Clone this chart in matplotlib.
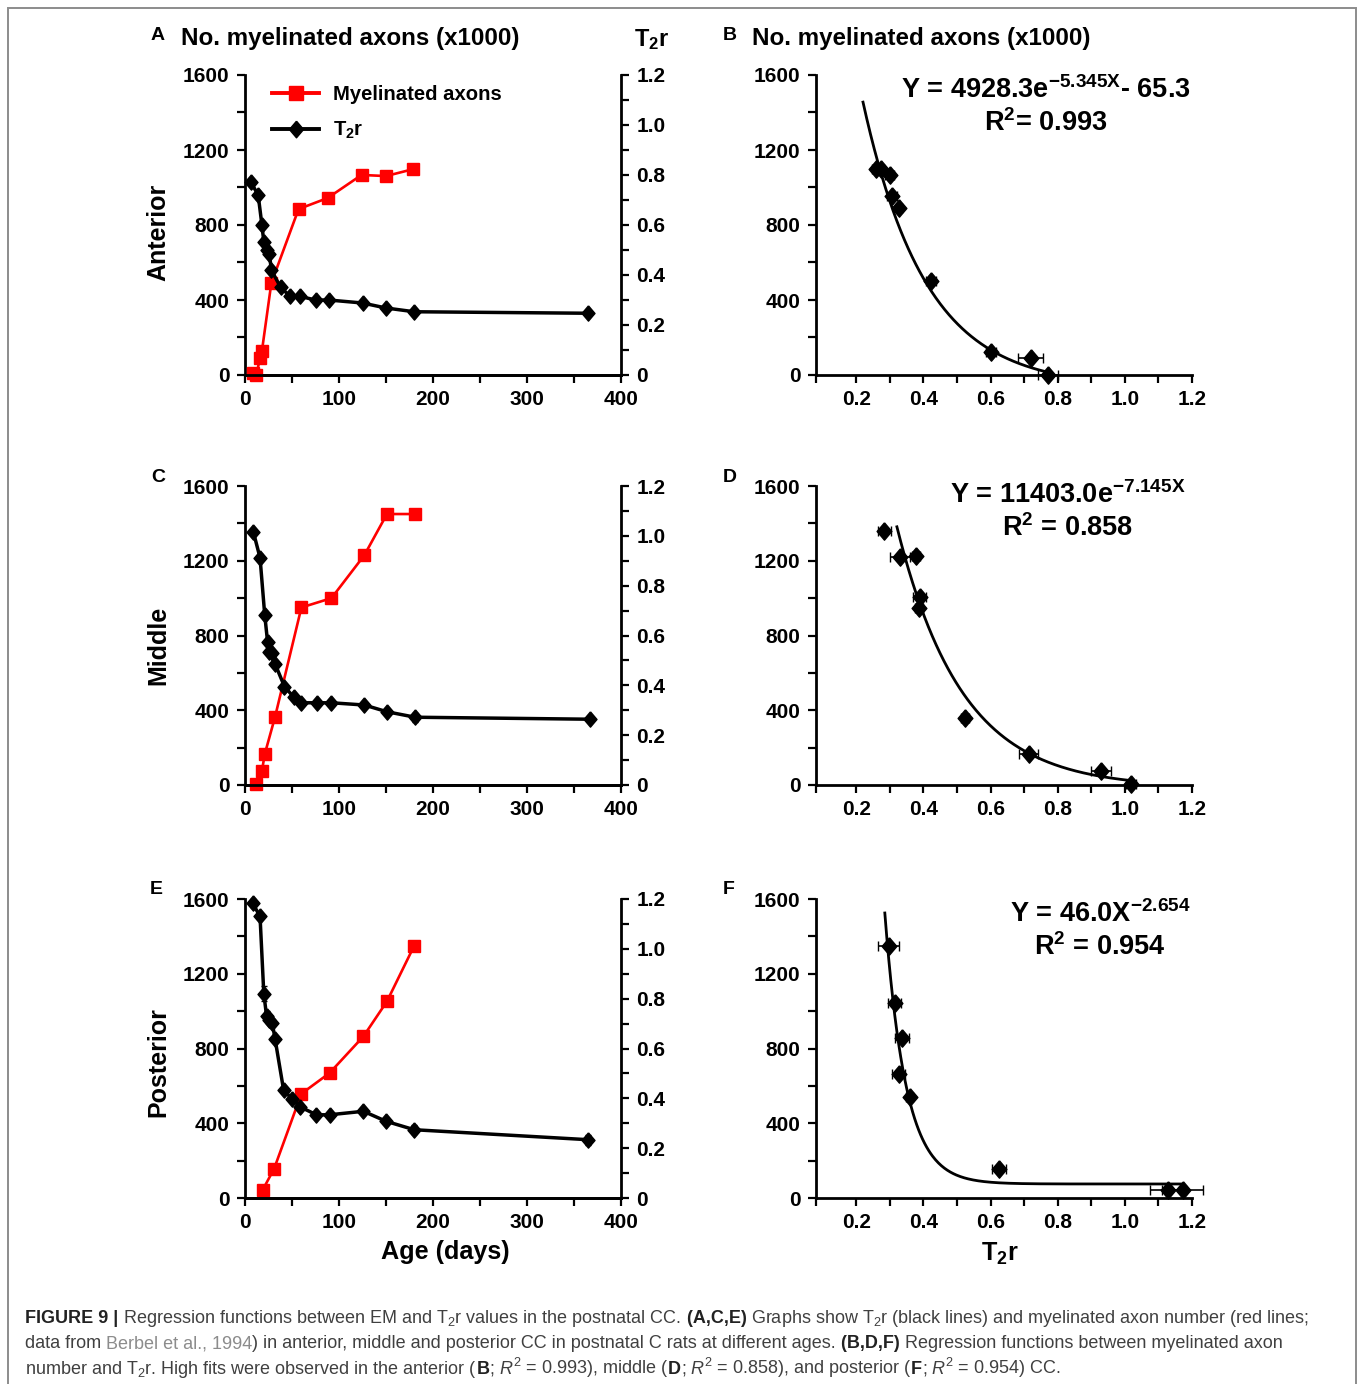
import numpy as np
import matplotlib
matplotlib.use("Agg")
import matplotlib.pyplot as plt
from matplotlib.ticker import MultipleLocator, FixedLocator, FuncFormatter
from matplotlib.lines import Line2D
from matplotlib.patches import Rectangle

plt.rcParams['font.family'] = ['Liberation Sans', 'DejaVu Sans']
plt.rcParams['font.weight'] = 'bold'
plt.rcParams['mathtext.default'] = 'regular'

# ---------------- data ----------------
# A - anterior
a_days_ax = [8, 12, 16, 18, 28, 57, 88, 124, 150, 179]
a_axons = [10, 0, 90, 128, 490, 885, 944, 1067, 1061, 1098]
a_days_t2 = [6, 14, 18, 20, 23, 26, 28, 38, 48, 58, 75, 89, 125, 150, 180, 365]
a_t2r = [0.773, 0.72, 0.60, 0.533, 0.50, 0.483, 0.42, 0.35, 0.315, 0.315,
         0.30, 0.30, 0.288, 0.268, 0.253, 0.247]
a_t2r_err = [0.01, 0.015, 0.01, 0.01, 0.01, 0.01, 0.01, 0.01, 0.01, 0.01,
             0.01, 0.01, 0.01, 0.01, 0.01, 0.012]

# C - middle
c_days_ax = [12, 18, 21, 32, 60, 92, 127, 151, 181]
c_axons = [5, 75, 165, 365, 950, 1000, 1230, 1450, 1450]
c_days_t2 = [9, 16, 21, 24, 26, 29, 32, 42, 52, 60, 77, 92, 127, 151, 181, 367]
c_t2r = [1.014, 0.912, 0.682, 0.575, 0.535, 0.531, 0.486, 0.395, 0.352, 0.330,
         0.330, 0.330, 0.321, 0.294, 0.272, 0.264]
c_t2r_err = [0.012, 0.015, 0.015, 0.01, 0.01, 0.01, 0.01, 0.01, 0.01, 0.01,
             0.01, 0.01, 0.012, 0.01, 0.018, 0.01]

# E - posterior
e_days_ax = [19, 31, 60, 90, 126, 151, 180]
e_axons = [45, 157, 558, 669, 865, 1052, 1350]
e_days_t2 = [8, 16, 20, 23, 26, 29, 32, 41, 50, 59, 76, 90, 126, 150, 180, 365]
e_t2r = [1.184, 1.13, 0.82, 0.729, 0.716, 0.702, 0.638, 0.435, 0.397, 0.365,
         0.334, 0.334, 0.348, 0.308, 0.274, 0.234]
e_t2r_err = [0.015, 0.012, 0.03, 0.02, 0.01, 0.01, 0.01, 0.01, 0.01, 0.01,
             0.01, 0.01, 0.012, 0.012, 0.018, 0.02]

# B, D, F - axons vs T2r
b_t2r = [0.260, 0.274, 0.299, 0.307, 0.327, 0.423, 0.602, 0.719, 0.772]
b_axons = [1101, 1098, 1067, 956, 893, 500, 122, 88, 0]
b_xerr = [0.012, 0.01, 0.012, 0.015, 0.008, 0.015, 0.015, 0.037, 0.03]

d_t2r = [0.284, 0.329, 0.377, 0.389, 0.386, 0.524, 0.713, 0.929, 1.018]
d_axons = [1361, 1222, 1226, 1004, 945, 360, 164, 77, 5]
d_xerr = [0.02, 0.03, 0.012, 0.02, 0.012, 0.012, 0.028, 0.03, 0.015]

f_t2r = [0.296, 0.314, 0.336, 0.326, 0.359, 0.625, 1.128, 1.172]
f_axons = [1346, 1044, 856, 665, 538, 155, 41, 41]
f_xerr = [0.031, 0.02, 0.02, 0.02, 0.01, 0.02, 0.053, 0.06]

# regression curves as drawn: (a, b, c, x_start, x_end) -> a*exp(-b*x) + c
b_fit = (4928.3, 5.345, -65.3, 0.22, 0.78)
d_fit = (7295.0, 5.15, -15.0, 0.321, 1.02)
f_fit = (138600.0, 16.0, 75.0, 0.285, 1.17)

b_eq = [r"Y = 4928.3$e^{-5.345X}$- 65.3", r"R$^2$= 0.993"]
d_eq = [r"Y = 11403.0$e^{-7.145X}$", r"R$^2$ = 0.858"]
f_eq = [r"Y = 46.0$X^{-2.654}$", r"R$^2$ = 0.954"]

RED = '#ff0000'
W, H = 1358, 1384
fig = plt.figure(figsize=(W / 100, H / 100), dpi=100)


def fx(x):
    return x / W


def fy(y):
    return 1 - y / H


def rect(l, t, r, b):
    return [l / W, 1 - b / H, (r - l) / W, (b - t) / H]


# diamond a bit taller than wide, like the original markers
DIAMOND = [(0, 1), (0.85, 0), (0, -1), (-0.85, 0), (0, 1)]


def style_ticks(ax):
    ax.tick_params(which='both', direction='out', length=6, width=1.6,
                   labelsize=15, pad=5)
    for s in ax.spines.values():
        s.set_linewidth(2.0)


def age_panel(r, d_ax, axons, d_t2, t2r, t2r_err, ylab, ylab_y, legend=False):
    ax = fig.add_axes(r)
    ax2 = ax.twinx()
    ax.plot(d_ax, axons, '-', marker='s', color=RED, lw=1.9, ms=9, clip_on=False, zorder=3)
    ax2.errorbar(d_t2, t2r, yerr=t2r_err, fmt='-', marker=DIAMOND, color='k', lw=2.5,
                 ms=11, capsize=2.5, elinewidth=1.2, clip_on=False)
    ax.set_xlim(0, 400)
    ax.set_ylim(0, 1600)
    ax2.set_ylim(0, 1.2)
    ax.xaxis.set_major_locator(MultipleLocator(100))
    ax.xaxis.set_minor_locator(MultipleLocator(50))
    ax.yaxis.set_major_locator(MultipleLocator(400))
    ax.yaxis.set_minor_locator(MultipleLocator(200))
    ax2.yaxis.set_major_locator(MultipleLocator(0.2))
    ax2.yaxis.set_minor_locator(MultipleLocator(0.1))
    ax2.yaxis.set_major_formatter(FuncFormatter(lambda v, p: '0' if abs(v) < 1e-9 else f'{v:.1f}'))
    ax.spines['top'].set_visible(False)
    ax.spines['right'].set_visible(False)
    ax2.spines['top'].set_visible(False)
    ax2.spines['left'].set_visible(False)
    style_ticks(ax)
    style_ticks(ax2)
    fig.text(fx(158), fy(ylab_y), ylab, rotation=90, fontsize=18, ha='center', va='center')
    if legend:
        handles = [Line2D([], [], color=RED, marker='s', lw=2.8, ms=10),
                   Line2D([], [], color='k', marker=DIAMOND, lw=2.8, ms=12)]
        ax2.legend(handles, ['Myelinated axons', r'T$_2$r'], loc='upper left',
                   bbox_to_anchor=(0.051, 0.995), borderaxespad=0, frameon=False,
                   handlelength=2.3, handletextpad=0.7, labelspacing=0.8,
                   prop={'size': 14.6, 'weight': 'bold'})
    return ax


def fit_panel(r, t2r, axons, xerr, fit, eq, eq_x, eq_y):
    ax = fig.add_axes(r)
    a, b, c, x0, x1 = fit
    xs = np.linspace(x0, x1, 300)
    ax.plot(xs, a * np.exp(-b * xs) + c, color='k', lw=2.0)
    ax.errorbar(t2r, axons, xerr=xerr, fmt='none', ecolor='k', elinewidth=1.2,
                capsize=3.5, clip_on=False)
    ax.plot(t2r, axons, ls='none', marker=DIAMOND, color='k', ms=12.5, clip_on=False)
    ax.set_xlim(0.08, 1.2)
    ax.set_ylim(0, 1600)
    ax.xaxis.set_major_locator(FixedLocator([0.2, 0.4, 0.6, 0.8, 1.0, 1.2]))
    ax.xaxis.set_minor_locator(FixedLocator([0.08, 0.3, 0.5, 0.7, 0.9, 1.1]))
    ax.xaxis.set_major_formatter(FuncFormatter(lambda v, p: f'{v:.1f}'))
    ax.yaxis.set_major_locator(MultipleLocator(400))
    ax.yaxis.set_minor_locator(MultipleLocator(200))
    ax.spines['top'].set_visible(False)
    ax.spines['right'].set_visible(False)
    style_ticks(ax)
    fig.text(fx(eq_x), fy(eq_y), eq[0], fontsize=19.5, ha='center', va='center')
    fig.text(fx(eq_x), fy(eq_y + 33), eq[1], fontsize=19.5, ha='center', va='center')
    return ax


age_panel(rect(245, 75, 621, 375), a_days_ax, a_axons, a_days_t2, a_t2r, a_t2r_err,
          'Anterior', 232, legend=True)
age_panel(rect(245, 486, 621, 785), c_days_ax, c_axons, c_days_t2, c_t2r, c_t2r_err,
          'Middle', 645)
age_panel(rect(245, 899, 621, 1198), e_days_ax, e_axons, e_days_t2, e_t2r, e_t2r_err,
          'Posterior', 1062)

fit_panel(rect(816, 75, 1192, 375), b_t2r, b_axons, b_xerr, b_fit, b_eq, 1046, 90)
fit_panel(rect(816, 486, 1192, 785), d_t2r, d_axons, d_xerr, d_fit, d_eq, 1068, 495)
fit_panel(rect(816, 899, 1192, 1198), f_t2r, f_axons, f_xerr, f_fit, f_eq, 1100, 914)

# headers and panel letters
for x, y, s in [(158, 35, 'A'), (730, 35, 'B'), (158, 478, 'C'),
                (730, 478, 'D'), (156, 890, 'E'), (729, 890, 'F')]:
    fig.text(fx(x), fy(y), s, fontsize=14, ha='center', va='center')
fig.text(fx(181), fy(38), 'No. myelinated axons (x1000)', fontsize=17.4, va='center')
fig.text(fx(752), fy(38), 'No. myelinated axons (x1000)', fontsize=17.4, va='center')
fig.text(fx(652), fy(40), r'T$_2$r', fontsize=17, ha='center', va='center')
fig.text(fx(445), fy(1252), 'Age (days)', fontsize=18.2, ha='center', va='center')
fig.text(fx(1000), fy(1254), r'T$_2$r', fontsize=18.2, ha='center', va='center')

# frame around the figure (bottom edge is off the page)
fig.add_artist(Rectangle((fx(8), -0.1), fx(1356) - fx(8), fy(8) + 0.1, fill=False,
                         ec='#8c8c8c', lw=1.4, transform=fig.transFigure))

# caption
CAP_FS = 12.95
CAP_STYLE = {
    'n': dict(color='#404040', fontweight='normal'),
    'b': dict(color='#222222', fontweight='bold'),
    'g': dict(color='#8c8c8c', fontweight='normal'),
    'i': dict(color='#404040', fontweight='normal', fontstyle='italic'),
}
cap_lines = [
    (1323, [("FIGURE 9 |", 'b'),
            (" Regression functions between EM and T$_2$r values in the postnatal CC.", 'n'),
            (" (A,C,E)", 'b'),
            (" Graphs show T$_2$r (black lines) and myelinated axon number (red lines;", 'n')]),
    (1348.5, [("data from", 'n'), (" Berbel et al., 1994", 'g'),
              (") in anterior, middle and posterior CC in postnatal C rats at different ages.", 'n'),
              (" (B,D,F)", 'b'), (" Regression functions between myelinated axon", 'n')]),
    (1374, [("number and T$_2$r. High fits were observed in the anterior (", 'n'),
            ("B", 'b'), (";", 'n'), (" R", 'i'), ("$^2$ = 0.993), middle (", 'n'),
            ("D", 'b'), (";", 'n'), (" R", 'i'), ("$^2$ = 0.858), and posterior (", 'n'),
            ("F", 'b'), (";", 'n'), (" R", 'i'), ("$^2$ = 0.954) CC.", 'n')]),
]
renderer = fig.canvas.get_renderer()
for y, parts in cap_lines:
    x = 25
    for s, k in parts:
        t = fig.text(fx(x), fy(y), s, fontsize=CAP_FS, va='baseline', ha='left', **CAP_STYLE[k])
        x += t.get_window_extent(renderer).width

fig.savefig('out.png', dpi=100)
